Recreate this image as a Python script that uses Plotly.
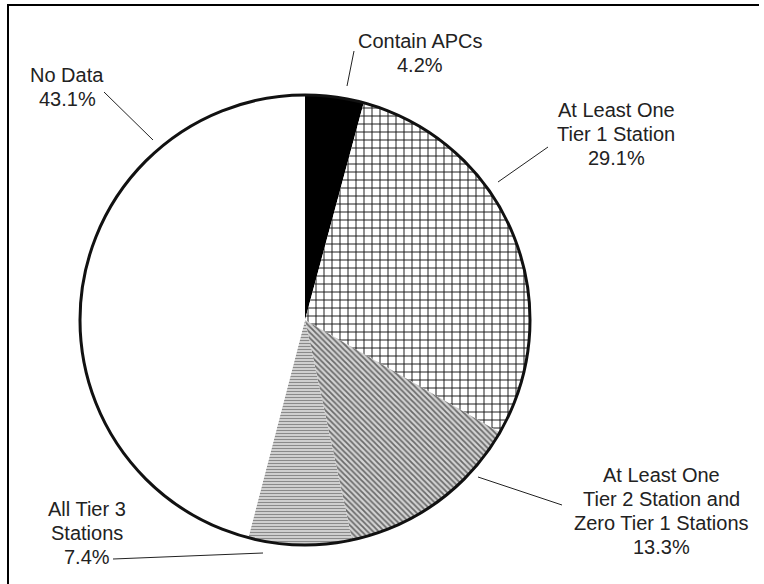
import plotly.graph_objects as go

# Categorias (sentido horário a partir do topo)
categorias = ["Contain APCs", "At Least One Tier 1 Station",
              "At Least One Tier 2 Station and Zero Tier 1 Stations",
              "All Tier 3 Stations", "No Data"]
# Percentuais impressos nos rótulos
percentuais = ["4.2%", "29.1%", "13.3%", "7.4%", "43.1%"]
# Tamanho das fatias lido dos ângulos da figura (o "No Data" desenhado ocupa o restante)
valores = [4.2, 29.1, 13.3, 7.4, 45.9]
# Linhas do texto de cada rótulo
linhas_rotulo = [
    ["Contain APCs"],
    ["At Least One", "Tier 1 Station"],
    ["At Least One", "Tier 2 Station and", "Zero Tier 1 Stations"],
    ["All Tier 3", "Stations"],
    ["No Data"],
]

W, H = 764, 584
def px(x):
    return x / W
def py(y):
    return 1 - y / H

# Centro e raio da pizza em pixels
cx, cy, r = 305, 320, 225
dominio = dict(x=[px(cx - r), px(cx + r)], y=[py(cy + r), py(cy - r)])

fig = go.Figure()
fig.add_trace(go.Pie(
    labels=categorias, values=valores, sort=False, direction="clockwise",
    rotation=0, textinfo="none", hoverinfo="label+value", showlegend=False,
    domain=dominio,
    marker=dict(
        colors=["#000000", "#ffffff", "#d4d4d4", "#e6e6e6", "#ffffff"],
        line=dict(width=0),
        pattern=dict(
            shape=["", "+", "\\", "-", ""],
            fgcolor=["#000000", "#111111", "#6a6a6a", "#8a8a8a", "#ffffff"],
            bgcolor=["#000000", "#ffffff", "#d4d4d4", "#e6e6e6", "#ffffff"],
            size=[8, 8, 4, 3, 8],
            solidity=[0.3, 0.22, 0.45, 0.5, 0.3],
            fillmode="replace",
        ),
    ),
))
# Contorno externo do círculo
fig.add_trace(go.Pie(
    values=[1], labels=[""], textinfo="none", hoverinfo="skip", showlegend=False,
    domain=dominio, sort=False,
    marker=dict(colors=["rgba(0,0,0,0)"], line=dict(color="#111111", width=3)),
))

# Posição dos rótulos (centro x, linha de base da primeira linha) e linhas guia
pos_rotulo = [(420, 48), (616, 117), (661, 482), (87, 516), (67, 82)]
guias = [((354, 51), (347, 86)), ((548, 147), (498, 182)),
         ((478, 477), (562, 505)), ((113, 559), (263, 553)),
         ((104, 92), (153, 140))]
esp = 24

for linhas, pct, (x0, y0) in zip(linhas_rotulo, percentuais, pos_rotulo):
    for i, t in enumerate(linhas + [pct]):
        fig.add_annotation(x=px(x0), y=py(y0 + i * esp - 7), xref="paper", yref="paper",
                           text=t, showarrow=False, xanchor="center", yanchor="middle",
                           font=dict(family="Liberation Sans, Arial", size=20, color="#222222"))

for (a, b) in guias:
    fig.add_shape(type="line", xref="paper", yref="paper",
                  x0=px(a[0]), y0=py(a[1]), x1=px(b[0]), y1=py(b[1]),
                  line=dict(color="#222222", width=1))

# Moldura (superior e esquerda)
fig.add_shape(type="line", xref="paper", yref="paper", x0=px(7), y0=py(5), x1=px(759), y1=py(5),
              line=dict(color="#000000", width=2))
fig.add_shape(type="line", xref="paper", yref="paper", x0=px(8), y0=py(5), x1=px(8), y1=py(584),
              line=dict(color="#000000", width=2))

fig.update_layout(width=W, height=H, margin=dict(l=0, r=0, t=0, b=0),
                  paper_bgcolor="white", plot_bgcolor="white")
fig.write_html("out.html", config={"displayModeBar": False},
               post_script="document.body.style.margin='0';document.body.style.overflow='hidden';")
